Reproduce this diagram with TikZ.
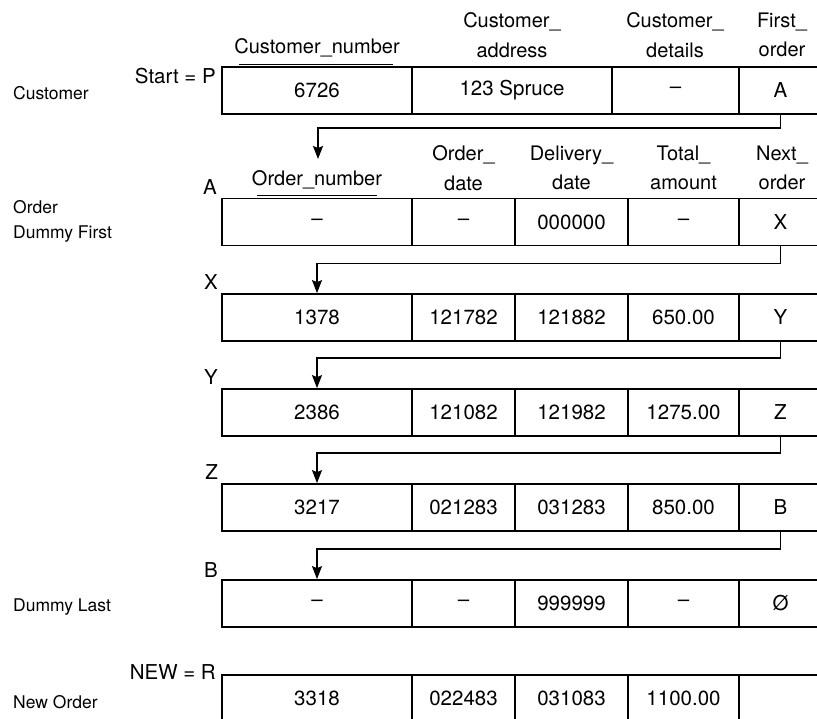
\documentclass[tikz,border=0pt]{standalone}
\usepackage{fontspec}
\setmainfont{TeX Gyre Heros}
\usetikzlibrary{arrows.meta}

\begin{document}
\begin{tikzpicture}[x=1pt,y=-1pt,
    cell/.style={draw,line width=1.8pt,rectangle,minimum height=47pt,inner sep=0pt,
        font=\fontsize{20.5}{24}\selectfont},
    head/.style={align=center,inner sep=0pt,font=\fontsize{20}{29.5}\selectfont},
    side/.style={anchor=west,align=left,inner sep=0pt,font=\fontsize{17.5}{25}\selectfont},
    ptr/.style={anchor=east,inner sep=0pt,font=\fontsize{20.5}{24}\selectfont},
    link/.style={line width=1.2pt,-{Stealth[length=13pt,width=10pt,inset=2pt]}}]
    \clip (0,0) rectangle (817,718);
    \fill[white] (0,0) rectangle (817,718);

    % customer record
    \node[head] (hcnum) at (317,48) {Customer\_number};
    \draw[line width=1pt] ([xshift=5pt,yshift=-7pt]hcnum.south west) -- ([xshift=-7pt,yshift=-7pt]hcnum.south east);
    \node[head] (hcaddr) at (512,35) {Customer\_\\address};
    \node[head] (hcdet) at (675,35) {Customer\_\\details};
    \node[head] (hcfirst) at (782,35) {First\_\\order};
    \node[ptr] (pstart) at (216,76) {Start = P};
    \node[side] (lcust) at (13,93) {Customer};
    \node[cell,minimum width=190pt] (cnum) at (317,90.5) {6726};
    \node[cell,minimum width=200pt] (caddr) at (512,90.5) {123 Spruce};
    \node[cell,minimum width=127pt] (cdet) at (675.5,90.5) {--};
    \node[cell,minimum width=83pt] (cfirst) at (780.5,90.5) {A};

    % order headers
    \node[head] (honum) at (317,180) {Order\_number};
    \draw[line width=1pt] ([xshift=5pt,yshift=-6pt]honum.south west) -- ([xshift=-5pt,yshift=-6pt]honum.south east);
    \coordinate (aend) at (318,159);
    \node[head] (hodate) at (463.5,168) {Order\_\\date};
    \node[head] (hddate) at (571.5,168) {Delivery\_\\date};
    \node[head] (htotal) at (683.5,168) {Total\_\\amount};
    \node[head] (hnext) at (782,168) {Next\_\\order};

    % dummy first
    \node[ptr] (pa) at (217,187) {A};
    \node[side] (lfirst) at (13,221) {Order\\Dummy First};
    \node[cell,minimum width=190pt] (a1) at (317,222) {--};
    \node[cell,minimum width=103pt] (a2) at (463.5,222) {--};
    \node[cell,minimum width=113pt] (a3) at (571.5,222) {000000};
    \node[cell,minimum width=111pt] (a4) at (683.5,222) {--};
    \node[cell,minimum width=83pt] (a5) at (780.5,222) {X};

    % order X
    \node[ptr] (px) at (218,282) {X};
    \node[cell,minimum width=190pt] (x1) at (317,317.5) {1378};
    \node[cell,minimum width=103pt] (x2) at (463.5,317.5) {121782};
    \node[cell,minimum width=113pt] (x3) at (571.5,317.5) {121882};
    \node[cell,minimum width=111pt] (x4) at (683.5,317.5) {650.00};
    \node[cell,minimum width=83pt] (x5) at (780.5,317.5) {Y};

    % order Y
    \node[ptr] (py) at (218,377) {Y};
    \node[cell,minimum width=190pt] (y1) at (317,412.5) {2386};
    \node[cell,minimum width=103pt] (y2) at (463.5,412.5) {121082};
    \node[cell,minimum width=113pt] (y3) at (571.5,412.5) {121982};
    \node[cell,minimum width=111pt] (y4) at (683.5,412.5) {1275.00};
    \node[cell,minimum width=83pt] (y5) at (780.5,412.5) {Z};

    % order Z
    \node[ptr] (pz) at (218,472) {Z};
    \node[cell,minimum width=190pt] (z1) at (317,507.5) {3217};
    \node[cell,minimum width=103pt] (z2) at (463.5,507.5) {021283};
    \node[cell,minimum width=113pt] (z3) at (571.5,507.5) {031283};
    \node[cell,minimum width=111pt] (z4) at (683.5,507.5) {850.00};
    \node[cell,minimum width=83pt] (z5) at (780.5,507.5) {B};

    % dummy last
    \node[ptr] (pb) at (218,570) {B};
    \node[side] (llast) at (13,607) {Dummy Last};
    \node[cell,minimum width=190pt] (b1) at (317,603.5) {--};
    \node[cell,minimum width=103pt] (b2) at (463.5,603.5) {--};
    \node[cell,minimum width=113pt] (b3) at (571.5,603.5) {999999};
    \node[cell,minimum width=111pt] (b4) at (683.5,603.5) {--};
    \node[cell,minimum width=83pt] (b5) at (780.5,603.5) {Ø};

    % new order
    \node[ptr] (pnew) at (216,672) {NEW = R};
    \node[side] (lnew) at (13,702) {New Order};
    \node[cell,minimum width=190pt] (r1) at (317,698.5) {3318};
    \node[cell,minimum width=103pt] (r2) at (463.5,698.5) {022483};
    \node[cell,minimum width=113pt] (r3) at (571.5,698.5) {031083};
    \node[cell,minimum width=111pt] (r4) at (683.5,698.5) {1100.00};
    \node[cell,minimum width=83pt] (r5) at (780.5,698.5) {};

    % pointers
    \draw[link] (cfirst.south) -- ++(0,13) -| (aend);
    \draw[link] (a5.south) -- ++(0,17) -| (x1.north);
    \draw[link] (x5.south) -- ++(0,16) -| (y1.north);
    \draw[link] (y5.south) -- ++(0,16) -| (z1.north);
    \draw[link] (z5.south) -- ++(0,17) -| (b1.north);
\end{tikzpicture}
\end{document}
